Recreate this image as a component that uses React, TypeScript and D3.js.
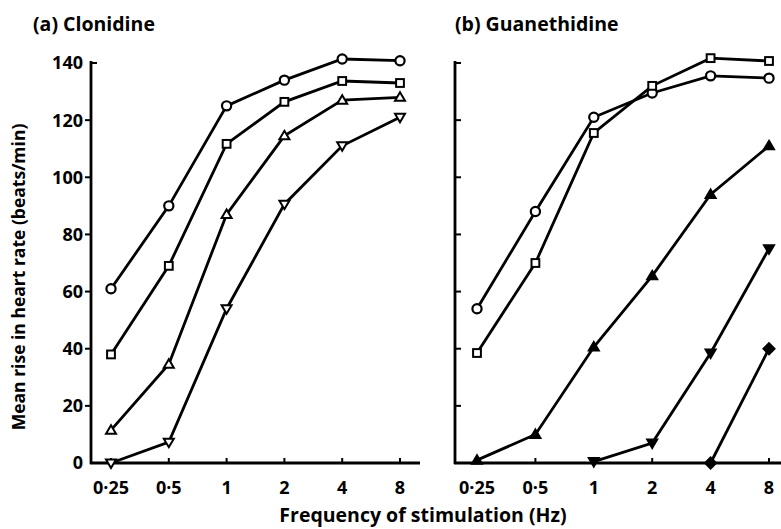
import React from "react";
import * as d3 from "d3";

const freqs = [0.25, 0.5, 1, 2, 4, 8];
const freqLabels = ["0·25", "0·5", "1", "2", "4", "8"];
const yTicks = [0, 20, 40, 60, 80, 100, 120, 140];

// Clonidine
const aCircle = [61, 90, 125, 134, 141.4, 140.8];
const aSquare = [38, 69, 111.7, 126.4, 133.7, 133];
const aTriUp = [11.5, 34.6, 87, 114.5, 127, 128];
const aTriDown = [0, 7.3, 54, 90.6, 111, 121];

// Guanethidine
const bCircle = [54, 88, 121, 129.5, 135.5, 134.7];
const bSquare = [38.5, 70, 115.5, 132, 141.7, 140.7];
const bTriUp = [1, 10, 40.6, 65.5, 94, 111];
const bTriDownX = [1, 2, 4, 8];
const bTriDown = [0.5, 7, 38.5, 75];
const bDiamondX = [4, 8];
const bDiamond = [0, 40];

type Series = { xs: number[]; ys: number[]; shape: string; filled: boolean };

const panelA: Series[] = [
  { xs: freqs, ys: aCircle, shape: "circle", filled: false },
  { xs: freqs, ys: aSquare, shape: "square", filled: false },
  { xs: freqs, ys: aTriUp, shape: "triUp", filled: false },
  { xs: freqs, ys: aTriDown, shape: "triDown", filled: false },
];
const panelB: Series[] = [
  { xs: freqs, ys: bCircle, shape: "circle", filled: false },
  { xs: freqs, ys: bSquare, shape: "square", filled: false },
  { xs: freqs, ys: bTriUp, shape: "triUp", filled: true },
  { xs: bTriDownX, ys: bTriDown, shape: "triDown", filled: true },
  { xs: bDiamondX, ys: bDiamond, shape: "diamond", filled: true },
];

const FONT = "'Open Sans', 'Lato', sans-serif";

function Marker({ x, y, shape, filled }: { x: number; y: number; shape: string; filled: boolean }) {
  const fill = filled ? "#000" : "#fff";
  const sw = 2;
  if (shape === "circle") return <circle cx={x} cy={y} r={4.6} fill={fill} stroke="#000" strokeWidth={2.2} />;
  if (shape === "square") return <rect x={x - 3.9} y={y - 3.9} width={7.8} height={7.8} fill={fill} stroke="#000" strokeWidth={sw} />;
  if (shape === "triUp")
    return <path d={`M${x},${y - 5} L${x + 5},${y + 3.5} L${x - 5},${y + 3.5} Z`} fill={fill} stroke="#000" strokeWidth={sw} />;
  if (shape === "triDown")
    return <path d={`M${x},${y + 5} L${x + 5},${y - 3.5} L${x - 5},${y - 3.5} Z`} fill={fill} stroke="#000" strokeWidth={sw} />;
  return <path d={`M${x},${y - 5.5} L${x + 5.5},${y} L${x},${y + 5.5} L${x - 5.5},${y} Z`} fill={fill} stroke="#000" strokeWidth={sw} />;
}

function Panel({ axisX, xFirst, xLast, axisEnd, series, title, titleX, showLabels }: any) {
  const x = d3.scaleLog().base(2).domain([0.25, 8]).range([xFirst, xLast]);
  const y = d3.scaleLinear().domain([0, 140]).range([463, 63]);
  const line = d3.line<[number, number]>().x((d) => x(d[0])).y((d) => y(d[1]));
  return (
    <g>
      <text x={titleX} y={31} fontFamily={FONT} fontWeight="bold" fontSize={19.5} fill="#000">{title}</text>
      <line x1={axisX} x2={axisX} y1={61} y2={464} stroke="#000" strokeWidth={2.8} />
      <line x1={axisX - 1} x2={axisEnd} y1={463} y2={463} stroke="#000" strokeWidth={2.8} />
      {yTicks.map((t, i) => {
        const yy = y(t);
        const right = !showLabels || t === 140;
        return (
          <g key={i}>
            {t !== 0 && (
              <line x1={axisX} x2={right ? axisX + 6 : axisX - 6} y1={yy} y2={yy} stroke="#000" strokeWidth={2} />
            )}
            {showLabels && (
              <text x={axisX - 8} y={yy} dy="0.36em" textAnchor="end" fontFamily={FONT} fontWeight="bold" fontSize={18} fill="#000">
                {t}
              </text>
            )}
          </g>
        );
      })}
      {freqs.map((f, i) => (
        <g key={i}>
          <line x1={x(f)} x2={x(f)} y1={463} y2={458} stroke="#000" strokeWidth={2} />
          <text x={x(f)} y={494} textAnchor="middle" fontFamily={FONT} fontWeight="bold" fontSize={18} fill="#000">
            {freqLabels[i]}
          </text>
        </g>
      ))}
      {series.map((s: Series, i: number) => (
        <path key={i} d={line(s.xs.map((v, j) => [v, s.ys[j]]) as [number, number][]) || ""} fill="none" stroke="#000" strokeWidth={2.8} />
      ))}
      {series.map((s: Series, i: number) =>
        s.xs.map((v, j) => <Marker key={i + "-" + j} x={x(v)} y={y(s.ys[j])} shape={s.shape} filled={s.filled} />)
      )}
    </g>
  );
}

export default function App() {
  return (
    <svg width={781} height={529} style={{ position: "absolute", left: 0, top: 0, background: "#fff" }}>
      <rect width={781} height={529} fill="#fff" />
      <Panel axisX={91} xFirst={111} xLast={400} axisEnd={420} series={panelA} title="(a) Clonidine" titleX={33} showLabels={true} />
      <Panel axisX={455} xFirst={477} xLast={769} axisEnd={781} series={panelB} title="(b) Guanethidine" titleX={455} showLabels={false} />
      <text transform="translate(25,277) rotate(-90)" textAnchor="middle" fontFamily={FONT} fontWeight="bold" fontSize={17.5} fill="#000">
        Mean rise in heart rate (beats/min)
      </text>
      <text x={423} y={522} textAnchor="middle" fontFamily={FONT} fontWeight="bold" fontSize={19.5} fill="#000">
        Frequency of stimulation (Hz)
      </text>
    </svg>
  );
}
